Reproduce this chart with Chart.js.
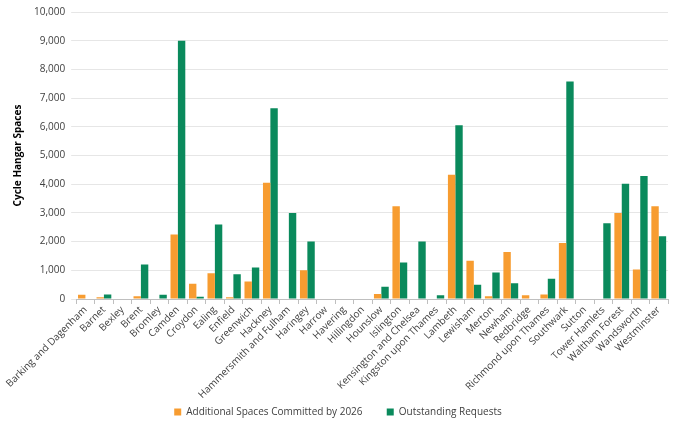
<!DOCTYPE html>
<html>
<head>
<meta charset="utf-8">
<script src="https://cdn.jsdelivr.net/npm/chart.js@4"></script>
<style>
  html, body { margin: 0; padding: 0; background: #fff; }
  #wrap { width: 680px; height: 428px; }
</style>
</head>
<body>
<div id="wrap"><canvas id="chart"></canvas></div>
<script>
const boroughs = ['Barking and Dagenham', 'Barnet', 'Bexley', 'Brent', 'Bromley', 'Camden', 'Croydon', 'Ealing',
  'Enfield', 'Greenwich', 'Hackney', 'Hammersmith and Fulham', 'Haringey', 'Harrow', 'Havering', 'Hillingdon',
  'Hounslow', 'Islington', 'Kensington and Chelsea', 'Kingston upon Thames', 'Lambeth', 'Lewisham', 'Merton',
  'Newham', 'Redbridge', 'Richmond upon Thames', 'Southwark', 'Sutton', 'Tower Hamlets', 'Waltham Forest',
  'Wandsworth', 'Westminster'];

const committed = [150, 60, 0, 100, 20, 2250, 530, 900, 60, 610, 4050, 0, 1000, 0, 0, 0,
  175, 3230, 0, 20, 4330, 1330, 100, 1640, 130, 160, 1955, 20, 0, 3000, 1030, 3230];

const outstanding = [0, 160, 0, 1200, 150, 9000, 80, 2600, 860, 1100, 6650, 3000, 2000, 0, 20, 0,
  430, 1270, 2000, 130, 6050, 500, 925, 545, 0, 705, 7580, 0, 2640, 4015, 4290, 2190];

const seriesNames = ['Additional Spaces Committed by 2026', 'Outstanding Requests'];
const yTitle = 'Cycle Hangar Spaces';

const tickFont = { family: 'Open Sans', size: 10 };

new Chart(document.getElementById('chart'), {
  type: 'bar',
  data: {
    labels: boroughs,
    datasets: [{
      label: seriesNames[0],
      data: committed,
      backgroundColor: '#F79C30'
    }, {
      label: seriesNames[1],
      data: outstanding,
      backgroundColor: '#0A8A5C'
    }]
  },
  options: {
    responsive: true,
    maintainAspectRatio: false,
    animation: false,
    layout: { padding: { left: 8, right: 12, top: 4, bottom: 1 } },
    datasets: { bar: { categoryPercentage: 0.8, barPercentage: 1.0 } },
    plugins: {
      legend: {
        position: 'bottom',
        labels: {
          color: '#404040',
          font: tickFont,
          boxWidth: 7,
          boxHeight: 7,
          padding: 6,
          // small vertical padding, so widen the gap between the two items with spaces
          generateLabels: (chart) => Chart.defaults.plugins.legend.labels.generateLabels(chart)
            .map((item, i) => Object.assign(item, { text: i === 0 ? item.text + '       ' : item.text }))
        }
      },
      tooltip: { enabled: false }
    },
    scales: {
      x: {
        grid: { display: true, drawOnChartArea: false, tickLength: 5, color: '#bfbfbf' },
        border: { color: '#bfbfbf' },
        ticks: { color: '#404040', font: tickFont, minRotation: 45, maxRotation: 45, autoSkip: false, padding: 0 }
      },
      y: {
        min: 0,
        max: 10000,
        ticks: { stepSize: 1000, color: '#404040', font: tickFont, padding: 6 },
        grid: { color: '#e6e6e6', tickLength: 5 },
        border: { display: false },
        title: { display: true, text: yTitle, color: '#000', font: { family: 'Open Sans', size: 10, weight: 'bold' } }
      }
    }
  }
});
</script>
</body>
</html>
